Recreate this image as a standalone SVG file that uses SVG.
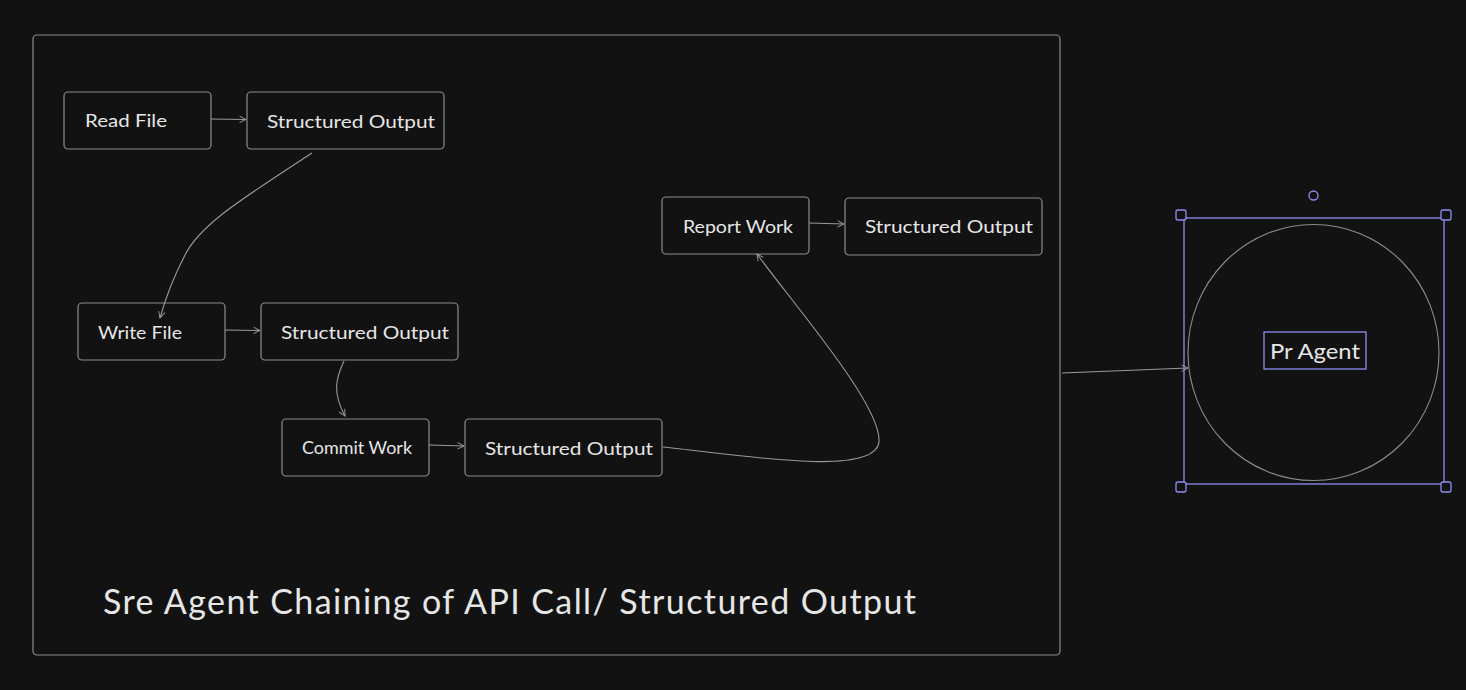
<svg xmlns="http://www.w3.org/2000/svg" width="1466" height="690" viewBox="0 0 1466 690">
<defs>
<marker id="ah" viewBox="0 0 10 10" refX="9" refY="5" markerWidth="8" markerHeight="8" orient="auto" markerUnits="userSpaceOnUse">
<path d="M1,1 L9,5 L1,9" fill="none" stroke="#9a9a9a" stroke-width="1.2"/>
</marker>
<style>
.box{fill:#121212;stroke:#8c8c8c;stroke-width:1.2}
.lbl{font-family:"Lato","Liberation Sans",sans-serif;font-size:18px;fill:#e6e6e6;dominant-baseline:central}
.con{fill:none;stroke:#9a9a9a;stroke-width:1.1}
.sel{fill:none;stroke:#8f8cf0;stroke-width:1.3}
.hdl{fill:#121212;stroke:#8f8cf0;stroke-width:1.3}
</style>
</defs>
<rect width="1466" height="690" fill="#121212"/>
<g id="frame">
<rect x="33" y="35" width="1027" height="620" rx="4" class="box"/>
<text x="103" y="600" font-family="Lato,'Liberation Sans',sans-serif" font-size="34" fill="#e6e6e6" dominant-baseline="central" textLength="813">Sre Agent Chaining of API Call/ Structured Output</text>
</g>
<g id="read-file"><rect x="64" y="92" width="147" height="57" rx="4" class="box"/><text x="85" y="120" class="lbl" textLength="82" lengthAdjust="spacingAndGlyphs">Read File</text></g>
<g id="so1"><rect x="247" y="92" width="197" height="57" rx="4" class="box"/><text x="267" y="121" class="lbl" textLength="168" lengthAdjust="spacingAndGlyphs">Structured Output</text></g>
<g id="write-file"><rect x="78" y="303" width="147" height="57" rx="4" class="box"/><text x="98" y="332" class="lbl" textLength="84" lengthAdjust="spacingAndGlyphs">Write File</text></g>
<g id="so2"><rect x="261" y="303" width="197" height="57" rx="4" class="box"/><text x="281" y="332" class="lbl" textLength="168" lengthAdjust="spacingAndGlyphs">Structured Output</text></g>
<g id="commit-work"><rect x="282" y="419" width="147" height="57" rx="4" class="box"/><text x="302" y="447" class="lbl" textLength="110" lengthAdjust="spacingAndGlyphs">Commit Work</text></g>
<g id="so3"><rect x="465" y="419" width="197" height="57" rx="4" class="box"/><text x="485" y="448" class="lbl" textLength="168" lengthAdjust="spacingAndGlyphs">Structured Output</text></g>
<g id="report-work"><rect x="662" y="197" width="147" height="57" rx="4" class="box"/><text x="683" y="226" class="lbl" textLength="110" lengthAdjust="spacingAndGlyphs">Report Work</text></g>
<g id="so4"><rect x="845" y="198" width="197" height="57" rx="4" class="box"/><text x="865" y="226" class="lbl" textLength="168" lengthAdjust="spacingAndGlyphs">Structured Output</text></g>
<g id="pr-agent">
<ellipse cx="1313.5" cy="352.5" rx="125.5" ry="128" fill="none" stroke="#8c8c8c" stroke-width="1.1"/>
<rect x="1184" y="218" width="260" height="266" class="sel"/>
<rect x="1176" y="210" width="10" height="10" rx="2" class="hdl"/>
<rect x="1441" y="210" width="10" height="10" rx="2" class="hdl"/>
<rect x="1176" y="482" width="10" height="10" rx="2" class="hdl"/>
<rect x="1441" y="482" width="10" height="10" rx="2" class="hdl"/>
<circle cx="1313.5" cy="195.5" r="4.5" class="hdl"/>
<rect x="1264" y="332" width="102" height="37" class="sel"/>
<text x="1270" y="350" font-family="Lato,'Liberation Sans',sans-serif" font-size="21" fill="#e6e6e6" dominant-baseline="central" textLength="90" lengthAdjust="spacingAndGlyphs">Pr Agent</text>
</g>
<g id="connectors">
<path d="M211,119 L246,119.5" class="con" marker-end="url(#ah)"/>
<path d="M312,153 C240,200 200,225 185,255 C172,280 165,300 160,318" class="con" marker-end="url(#ah)"/>
<path d="M225,330 L260,330.5" class="con" marker-end="url(#ah)"/>
<path d="M344,361 C336,378 332,392 345,416" class="con" marker-end="url(#ah)"/>
<path d="M429,445 L464,446" class="con" marker-end="url(#ah)"/>
<path d="M663,447 C740,455 875,478 879,442 C882,405 790,300 757,254" class="con" marker-end="url(#ah)"/>
<path d="M809,223 L844,224" class="con" marker-end="url(#ah)"/>
<path d="M1062,373 L1188,368" class="con" marker-end="url(#ah)"/>
</g>
</svg>
